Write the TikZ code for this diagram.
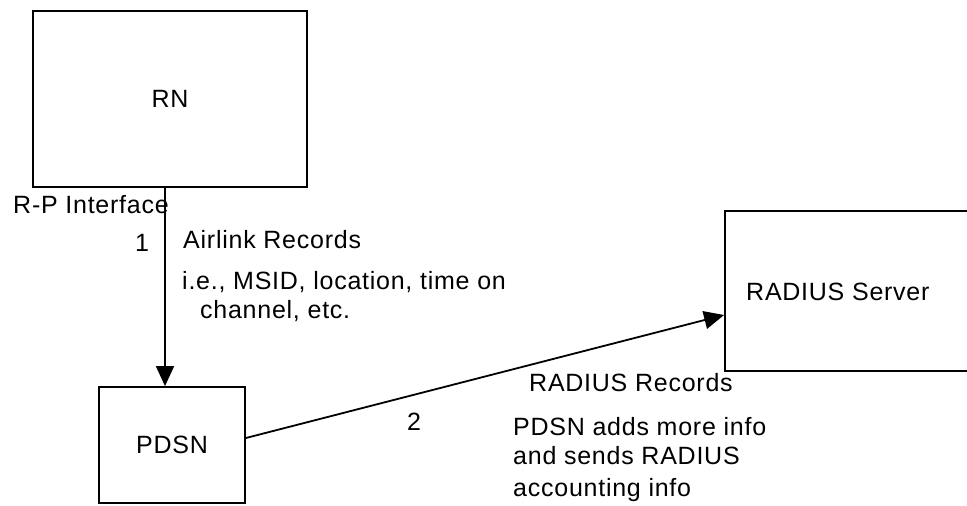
\documentclass[tikz,border=0pt]{standalone}
\usepackage{fontspec}
\setmainfont{Liberation Sans}[LetterSpace=3]
\usetikzlibrary{arrows.meta}

\begin{document}
\begin{tikzpicture}[x=1pt, y=-1pt,
    box/.style={draw, line width=1.8pt, inner sep=0pt, font=\fontsize{25}{29}\selectfont},
    txt/.style={anchor=west, inner sep=0pt, align=left, font=\fontsize{25}{29}\selectfont},
    arr/.style={line width=1.8pt, -{Triangle[length=20pt, width=18pt]}}]
    \useasboundingbox (0,0) rectangle (967,506);
    \node[box, minimum width=274, minimum height=176] (RN) at (170,99) {RN};
    \node[box, minimum width=146, minimum height=116] (PDSN) at (172,445) {PDSN};
    \node[box, minimum width=260, minimum height=160] (RAD) at (855,291) {};
    \node[txt] (RADt) at (746,292) {RADIUS Server};
    \draw[arr] (RN.south -| 165,0) -- (PDSN.north -| 165,0);
    \draw[arr] ([yshift=7pt]PDSN.east) -- ([yshift=-24pt]RAD.west);
    \node[txt] (RP) at (13,205) {R-P Interface};
    \node[txt] (one) at (135,243) {1};
    \node[txt] (air) at (183,240) {Airlink Records};
    \node[txt] (ie) at (182,297) {i.e., MSID, location, time on\\\hspace*{18pt}channel, etc.};
    \node[txt] (two) at (407,422) {2};
    \node[txt] (radrec) at (529,383) {RADIUS Records};
    \node[txt] (adds) at (513,460) {PDSN adds more info\\and sends RADIUS\\[3pt]accounting info};
\end{tikzpicture}
\end{document}
